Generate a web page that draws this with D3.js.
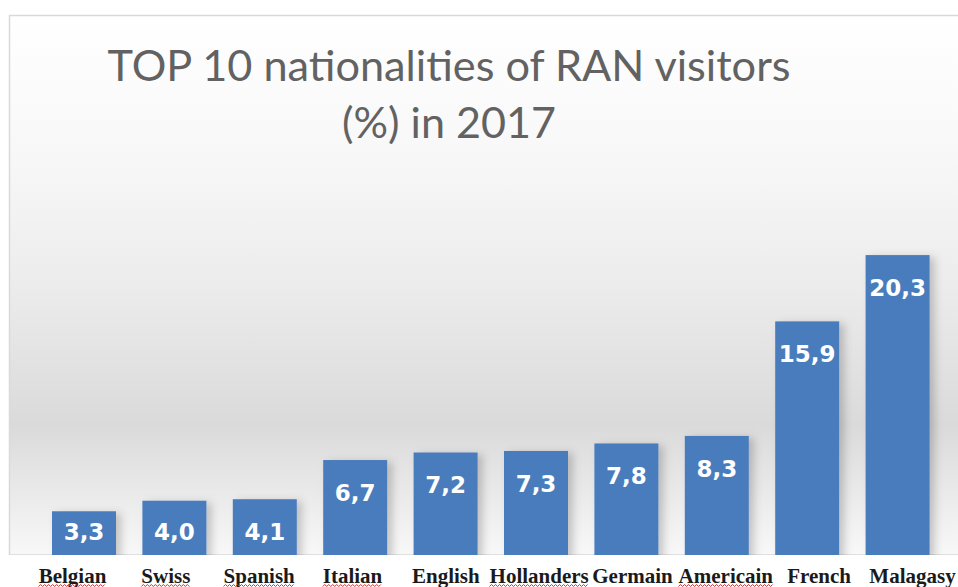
<!DOCTYPE html>
<html>
<head>
<meta charset="utf-8">
<script src="https://cdnjs.cloudflare.com/ajax/libs/d3/7.8.5/d3.min.js"></script>
<style>
  html, body { margin: 0; padding: 0; background: #fff; }
  svg { display: block; }
</style>
</head>
<body>
<div id="chart"></div>
<script>
// data
var nationalities = ["Belgian", "Swiss", "Spanish", "Italian", "English", "Hollanders", "Germain", "Americain", "French", "Malagasy"];
var percents = [3.3, 4.0, 4.1, 6.7, 7.2, 7.3, 7.8, 8.3, 15.9, 20.3];
// labels that carry the red spell-check underline in the original
var flagged = ["Belgian", "Swiss", "Spanish", "Italian", "Hollanders", "Americain"];
var titleLines = ["TOP 10 nationalities of RAN visitors", "(%) in 2017"];

var width = 958, height = 587;
var plotBottom = 555; // where the panel ends and the label strip starts

var svg = d3.select("#chart").append("svg")
    .attr("width", width)
    .attr("height", height);

var defs = svg.append("defs");

var grad = defs.append("linearGradient")
    .attr("id", "bg")
    .attr("x1", 0).attr("y1", 0).attr("x2", 0).attr("y2", 1);
[[0, "#ffffff"], [0.25, "#f8f8f8"], [0.5, "#ececec"], [0.76, "#dadada"], [0.88, "#e9e9e9"], [1, "#f8f8f8"]]
  .forEach(function(s) {
    grad.append("stop").attr("offset", s[0]).attr("stop-color", s[1]);
  });

var shadow = defs.append("filter")
    .attr("id", "shadow")
    .attr("x", "-20%").attr("y", "-10%").attr("width", "150%").attr("height", "130%");
shadow.append("feDropShadow")
    .attr("dx", 5).attr("dy", 2)
    .attr("stdDeviation", 4)
    .attr("flood-color", "#000")
    .attr("flood-opacity", 0.2);

defs.append("clipPath").attr("id", "plotclip")
  .append("rect")
    .attr("x", 0).attr("y", 0)
    .attr("width", width).attr("height", plotBottom);

// panel
svg.append("rect")
    .attr("x", 9.5).attr("y", 15.5)
    .attr("width", width).attr("height", plotBottom - 15.5)
    .attr("fill", "url(#bg)")
    .attr("stroke", "#d9d9d9")
    .attr("stroke-width", 1.5);

var x = d3.scaleBand()
    .domain(nationalities)
    .range([38.8, 942.8])
    .paddingInner(0.292)
    .paddingOuter(0.146);

// the category names were typed as a line of text under the chart,
// so they run on a slightly wider step than the bars
var xLabel = d3.scalePoint()
    .domain(nationalities)
    .range([72.5, 912.5]);

var y = d3.scaleLinear()
    .domain([0, 22])
    .range([561, 561 - 22 * 15.07]);

var plot = svg.append("g").attr("clip-path", "url(#plotclip)");

plot.selectAll("rect.bar")
    .data(percents)
    .enter().append("rect")
    .attr("class", "bar")
    .attr("x", function(d, i) { return x(nationalities[i]); })
    .attr("y", function(d) { return y(d); })
    .attr("width", x.bandwidth())
    .attr("height", function(d) { return y(0) - y(d); })
    .attr("fill", "#4a7cbc")
    .attr("filter", "url(#shadow)");

// value labels, inside the top of each bar
plot.selectAll("text.value")
    .data(percents)
    .enter().append("text")
    .attr("class", "value")
    .attr("x", function(d, i) { return x(nationalities[i]) + x.bandwidth() / 2; })
    .attr("y", function(d) { return Math.min(y(d) + 41, plotBottom - 15); })
    .attr("text-anchor", "middle")
    .attr("fill", "#ffffff")
    .style("font-family", "'DejaVu Sans', Verdana, sans-serif")
    .style("font-weight", "bold")
    .style("font-size", "23px")
    .text(function(d) { return d.toFixed(1).replace(".", ","); });

// white strip for category labels
svg.append("rect")
    .attr("x", 0).attr("y", plotBottom)
    .attr("width", width).attr("height", height - plotBottom)
    .attr("fill", "#ffffff");

var cats = svg.selectAll("g.cat")
    .data(nationalities)
    .enter().append("g")
    .attr("class", "cat");

cats.append("text")
    .attr("x", function(d) { return xLabel(d); })
    .attr("y", 583)
    .attr("text-anchor", "middle")
    .attr("fill", "#1a1a1a")
    .style("font-family", "'Liberation Serif', 'Times New Roman', serif")
    .style("font-weight", "bold")
    .style("font-size", "21px")
    .text(function(d) { return d; });

// red wavy underline under flagged words
cats.filter(function(d) { return flagged.indexOf(d) >= 0; })
  .each(function(d) {
    var g = d3.select(this);
    var len = g.select("text").node().getComputedTextLength();
    var x0 = xLabel(d) - len / 2;
    var pts = [];
    for (var k = 0; k * 2 <= len; k++) {
      pts.push([x0 + k * 2, k % 2 ? 584.5 : 586.5]);
    }
    g.append("path")
      .attr("d", d3.line()(pts))
      .attr("fill", "none")
      .attr("stroke", "#d42a2a")
      .attr("stroke-width", 1);
  });

// title
svg.selectAll("text.title")
    .data(titleLines)
    .enter().append("text")
    .attr("class", "title")
    .attr("x", 449)
    .attr("y", function(d, i) { return 81 + i * 57; })
    .attr("text-anchor", "middle")
    .attr("fill", "#626262")
    .attr("textLength", function(d, i) { return i === 0 ? 683 : 214; })
    .attr("lengthAdjust", "spacingAndGlyphs")
    .style("font-family", "Lato, 'Open Sans', sans-serif")
    .style("font-weight", 400)
    .style("font-size", "42px")
    .text(function(d) { return d; });
</script>
</body>
</html>
